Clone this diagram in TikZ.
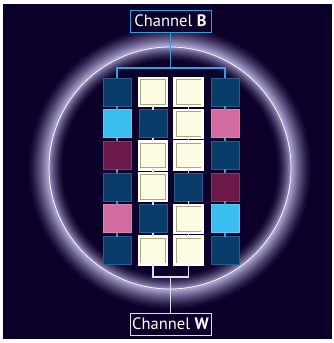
\documentclass[tikz,border=0pt]{standalone}
\usepackage{fontspec}
\setmainfont{PT Sans}
\definecolor{bgc}{RGB}{12,0,42}
\definecolor{glowhi}{RGB}{200,192,240}
\definecolor{dblue}{RGB}{10,60,106}
\definecolor{dbedge}{RGB}{40,92,140}
\definecolor{cyanb}{RGB}{58,190,240}
\definecolor{pinkb}{RGB}{210,108,160}
\definecolor{maroonb}{RGB}{108,24,72}
\definecolor{creamc}{RGB}{253,252,226}
\definecolor{olivec}{RGB}{170,166,130}
\definecolor{bline}{RGB}{58,156,218}
\definecolor{wline}{RGB}{222,222,236}
\tikzset{
  box/.style={minimum size=28pt, inner sep=0pt, outer sep=0pt},
  dbox/.style={box, fill=dblue, draw=dbedge, line width=0.7pt},
  cbox/.style={box, fill=cyanb, draw=cyanb!80!white, line width=0.7pt},
  pbox/.style={box, fill=pinkb, draw=pinkb!85!white, line width=0.7pt},
  mbox/.style={box, fill=maroonb, draw=maroonb!85!white, line width=0.7pt},
  wbox/.style={box, fill=creamc, draw=white, line width=2.4pt,
    path picture={\draw[olivec, line width=0.8pt]
      ([shift={(1.6pt,-1.6pt)}]path picture bounding box.north west) rectangle
      ([shift={(-1.6pt,1.6pt)}]path picture bounding box.south east);}},
  chan/.style={minimum width=81pt, minimum height=22pt, inner sep=0pt, fill=bgc,
    text=white, font=\fontsize{16.5}{18}\selectfont, line width=1pt},
  bconn/.style={draw=bline, line width=1.2pt},
  wconn/.style={draw=wline, line width=1.2pt}
}
\begin{document}
\begin{tikzpicture}[x=1pt,y=-1pt]
\useasboundingbox (0,0) rectangle (334,343);
\fill[white] (0,0) rectangle (334,343);
\fill[bgc] (3,4) rectangle (332,339);
% glow: nested discs, outer side first
\foreach \r in {143,142.5,...,122.5}{
  \pgfmathsetmacro{\p}{84*((143-\r)/20.5)^1.4}
  \fill[glowhi!\p!bgc] (170,168) circle (\r);
}
% glow: inner side
\foreach \r in {122,121.5,...,106}{
  \pgfmathsetmacro{\p}{82*((\r-106)/16)^1.6}
  \fill[glowhi!\p!bgc] (170,168) circle (\r);
}
\fill[bgc] (170,168) circle (105.8);
\draw[white!92!glowhi, line width=0.8pt] (170,168) circle (121);
% nodes
\node[chan, draw=bline] (B) at (170.5,21) {Channel \textbf{B}};
\node[chan, draw=wline] (W) at (170.5,324) {Channel \textbf{W}};
\def\xa{117}\def\xb{153}\def\xc{188.5}\def\xd{225}
% row 1
\node[dbox] (r1c1) at (\xa,92) {};
\node[wbox] (r1c2) at (\xb,92) {};
\node[wbox] (r1c3) at (\xc,92) {};
\node[dbox] (r1c4) at (\xd,92) {};
% row 2
\node[cbox] (r2c1) at (\xa,123.7) {};
\node[dbox] (r2c2) at (\xb,123.7) {};
\node[wbox] (r2c3) at (\xc,123.7) {};
\node[pbox] (r2c4) at (\xd,123.7) {};
% row 3
\node[mbox] (r3c1) at (\xa,155.4) {};
\node[wbox] (r3c2) at (\xb,155.4) {};
\node[wbox] (r3c3) at (\xc,155.4) {};
\node[dbox] (r3c4) at (\xd,155.4) {};
% row 4
\node[dbox] (r4c1) at (\xa,187.1) {};
\node[wbox] (r4c2) at (\xb,187.1) {};
\node[dbox] (r4c3) at (\xc,187.1) {};
\node[mbox] (r4c4) at (\xd,187.1) {};
% row 5
\node[pbox] (r5c1) at (\xa,218.8) {};
\node[dbox] (r5c2) at (\xb,218.8) {};
\node[wbox] (r5c3) at (\xc,218.8) {};
\node[cbox] (r5c4) at (\xd,218.8) {};
% row 6
\node[dbox] (r6c1) at (\xa,250.5) {};
\node[wbox] (r6c2) at (\xb,250.5) {};
\node[wbox] (r6c3) at (\xc,250.5) {};
\node[dbox] (r6c4) at (\xd,250.5) {};
% top connectors
\coordinate (tb) at (170.5,68);
\coordinate (bw) at (170.5,277);
\draw[bconn] (B) -- (tb);
\draw[bconn] (r1c1.north) |- (tb);
\draw[bconn] (r1c4.north) |- (tb);
% column connectors
\foreach \a/\b in {1/2,2/3,3/4,4/5,5/6}{
  \draw[bconn] (r\a c1.south) -- (r\b c1.north);
  \draw[bconn] (r\a c4.south) -- (r\b c4.north);
  \draw[wconn] (r\a c2.south) -- (r\b c2.north);
  \draw[wconn] (r\a c3.south) -- (r\b c3.north);
}
% bottom connectors
\draw[wconn] (r6c2.south) |- (bw);
\draw[wconn] (r6c3.south) |- (bw);
\draw[wconn] (bw) -- (W);
\end{tikzpicture}
\end{document}
